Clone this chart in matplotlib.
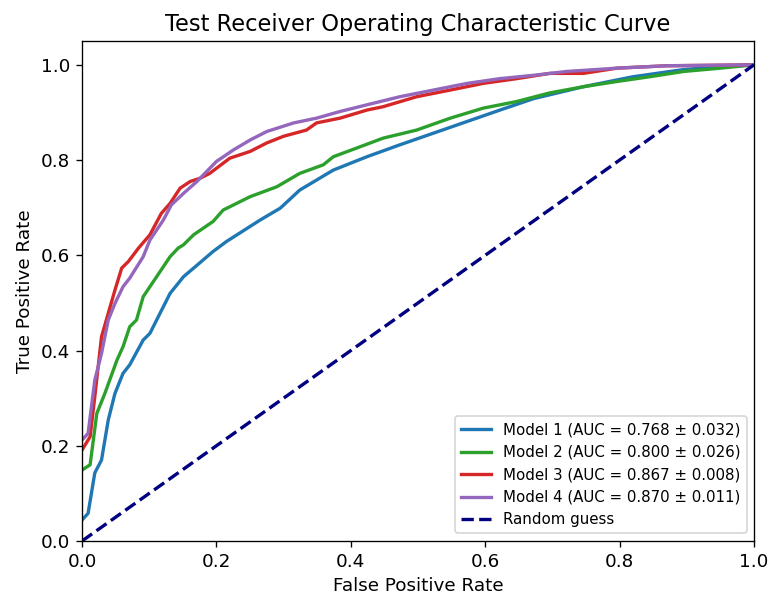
import matplotlib
matplotlib.use('Agg')
import matplotlib.pyplot as plt

# ROC points (false positive rate, true positive rate)
fpr_m1 = [0.0, 0.009, 0.019, 0.029, 0.039, 0.049, 0.061, 0.071, 0.091, 0.101, 0.131, 0.151,
          0.166, 0.195, 0.215, 0.265, 0.295, 0.324, 0.374, 0.424, 0.473, 0.573, 0.622, 0.672,
          0.746, 0.82, 0.895, 0.95, 1.0]
tpr_m1 = [0.044, 0.058, 0.143, 0.17, 0.254, 0.31, 0.352, 0.37, 0.422, 0.436, 0.52, 0.555,
          0.573, 0.608, 0.629, 0.674, 0.699, 0.737, 0.779, 0.807, 0.832, 0.881, 0.905, 0.929,
          0.954, 0.975, 0.99, 0.996, 1.0]

fpr_m2 = [0.0, 0.012, 0.022, 0.034, 0.052, 0.061, 0.071, 0.081, 0.091, 0.111, 0.131, 0.143,
          0.151, 0.166, 0.195, 0.21, 0.25, 0.29, 0.324, 0.359, 0.374, 0.414, 0.448, 0.498,
          0.548, 0.597, 0.647, 0.696, 0.746, 0.796, 0.845, 0.895, 0.95, 1.0]
tpr_m2 = [0.149, 0.16, 0.268, 0.31, 0.38, 0.408, 0.45, 0.464, 0.513, 0.555, 0.597, 0.615,
          0.622, 0.643, 0.671, 0.695, 0.723, 0.744, 0.772, 0.79, 0.807, 0.828, 0.846, 0.863,
          0.888, 0.909, 0.923, 0.941, 0.954, 0.965, 0.975, 0.986, 0.993, 1.0]

fpr_m3 = [0.0, 0.012, 0.019, 0.029, 0.039, 0.049, 0.059, 0.069, 0.084, 0.101, 0.118, 0.131,
          0.146, 0.161, 0.176, 0.19, 0.22, 0.25, 0.275, 0.3, 0.334, 0.349, 0.384, 0.424,
          0.448, 0.498, 0.548, 0.597, 0.647, 0.696, 0.746, 0.796, 0.87, 1.0]
tpr_m3 = [0.191, 0.219, 0.303, 0.429, 0.478, 0.527, 0.573, 0.587, 0.615, 0.643, 0.688, 0.709,
          0.741, 0.755, 0.762, 0.772, 0.804, 0.818, 0.836, 0.85, 0.863, 0.878, 0.888, 0.905,
          0.912, 0.933, 0.947, 0.961, 0.971, 0.982, 0.982, 0.993, 0.998, 1.0]

fpr_m4 = [0.0, 0.009, 0.019, 0.029, 0.039, 0.049, 0.061, 0.071, 0.091, 0.101, 0.121, 0.133,
          0.151, 0.171, 0.2, 0.225, 0.25, 0.275, 0.315, 0.349, 0.384, 0.424, 0.473, 0.523,
          0.573, 0.622, 0.672, 0.721, 0.796, 0.87, 1.0]
tpr_m4 = [0.212, 0.226, 0.338, 0.394, 0.464, 0.499, 0.534, 0.552, 0.597, 0.632, 0.674, 0.706,
          0.73, 0.755, 0.797, 0.821, 0.842, 0.86, 0.878, 0.888, 0.902, 0.916, 0.933, 0.947,
          0.961, 0.971, 0.978, 0.986, 0.993, 0.998, 1.0]

labels = ['Model 1 (AUC = 0.768 ± 0.032)',
          'Model 2 (AUC = 0.800 ± 0.026)',
          'Model 3 (AUC = 0.867 ± 0.008)',
          'Model 4 (AUC = 0.870 ± 0.011)']
colors = ['#1f77b4', '#2ca02c', '#d62728', '#9467bd']

fig, ax = plt.subplots(figsize=(7.71 / 1.2, 5.96 / 1.2), dpi=120)
fig.subplots_adjust(left=0.1064, right=0.978, bottom=0.0923, top=0.9312)

curves = [(fpr_m1, tpr_m1), (fpr_m2, tpr_m2), (fpr_m3, tpr_m3), (fpr_m4, tpr_m4)]
for (fpr, tpr), lab, col in zip(curves, labels, colors):
    ax.plot(fpr, tpr, color=col, lw=2, label=lab)

ax.plot([0, 1], [0, 1], color='navy', lw=2, linestyle='--', label='Random guess')

ax.set_xlim(0.0, 1.0)
ax.set_ylim(0.0, 1.05)
ax.set_xlabel('False Positive Rate', fontsize=11)
ax.set_ylabel('True Positive Rate', fontsize=11)
ax.set_title('Test Receiver Operating Characteristic Curve', fontsize=13.5)
ax.tick_params(labelsize=11)
ax.legend(loc='lower right', fontsize=9)

plt.savefig('out.png', dpi=120)
